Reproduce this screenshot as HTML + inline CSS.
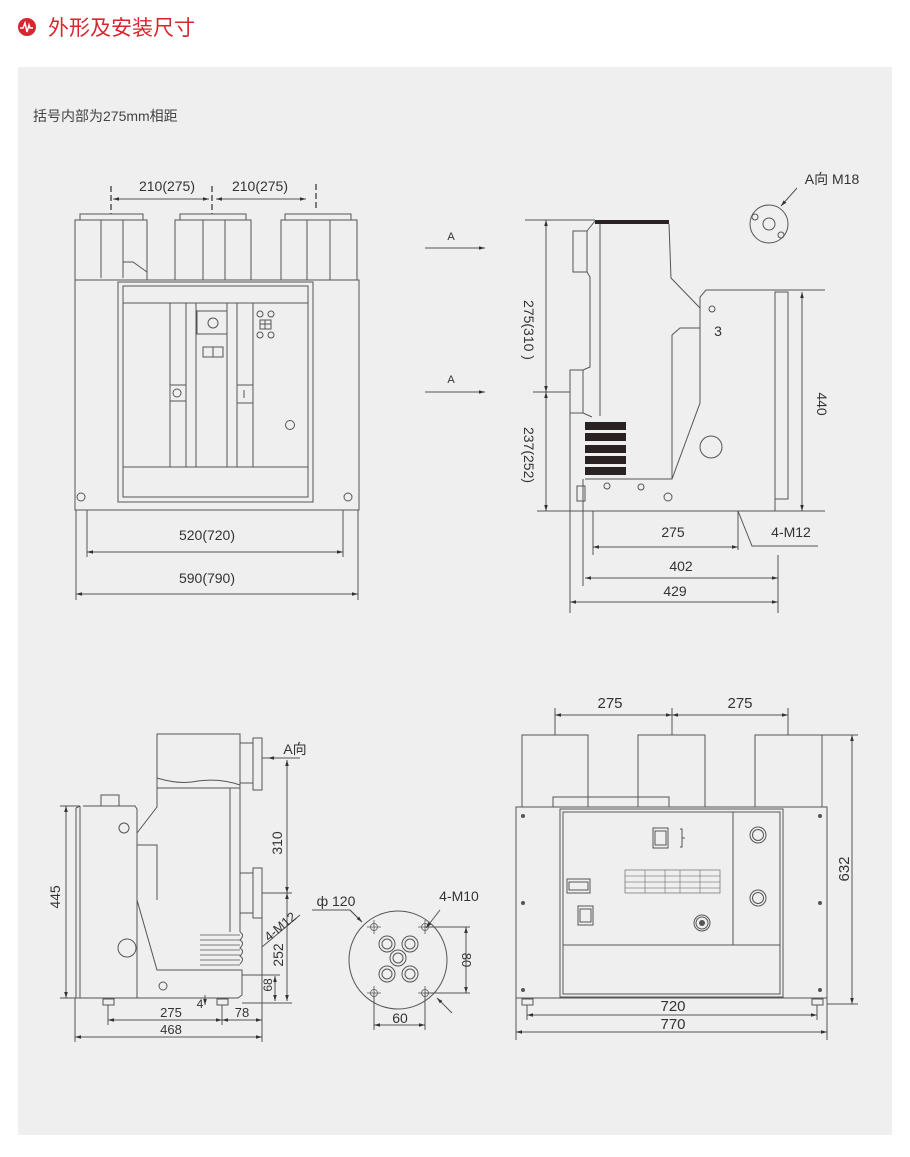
<!DOCTYPE html><html><head><meta charset="utf-8"><style>
body{margin:0;background:#fff;width:910px;height:1157px;overflow:hidden}
svg{display:block}
text{font-family:"Liberation Sans","Noto Sans CJK SC",sans-serif;fill:#333}
</style></head><body>
<svg width="910" height="1157" viewBox="0 0 910 1157" xmlns="http://www.w3.org/2000/svg">
<defs><marker id="a" viewBox="0 0 10 10" refX="10" refY="5" markerWidth="6" markerHeight="6" orient="auto-start-reverse"><path d="M0,2L10,5L0,8z" fill="#333"/></marker></defs>
<rect width="910" height="1157" fill="#fff"/>
<circle cx="27" cy="27" r="9" fill="#d8262e"/>
<path d="M20,28h3l2,-5l2,9l2,-7l1,3h3" stroke="#fff" stroke-width="1.5" fill="none"/>
<text x="48" y="35" font-size="21" style="fill:#d8262e">外形及安装尺寸</text>
<rect x="18" y="67" width="874" height="1068" fill="#efefef"/>
<text x="33" y="121" font-size="14" style="fill:#444">括号内部为275mm相距</text>
<g fill="none" stroke="#555" stroke-width="1">
<!-- view1 -->
<rect x="80" y="214" width="63" height="6"/><rect x="75" y="220" width="72" height="60"/>
<line x1="101" y1="220" x2="101" y2="278"/><line x1="123" y1="220" x2="123" y2="278"/><path d="M123,262h10l14,10"/>
<rect x="180" y="214" width="66" height="6"/><rect x="175" y="220" width="76" height="60"/>
<line x1="203" y1="220" x2="203" y2="280"/><line x1="225" y1="220" x2="225" y2="280"/>
<rect x="285" y="214" width="66" height="6"/><rect x="281" y="220" width="76" height="60"/>
<line x1="307" y1="220" x2="307" y2="280"/><line x1="330" y1="220" x2="330" y2="280"/>
<rect x="75" y="280" width="284" height="230"/>
<rect x="118" y="282" width="195" height="220"/><rect x="123" y="286" width="185" height="211"/>
<line x1="123" y1="303" x2="308" y2="303"/><line x1="123" y1="467" x2="308" y2="467"/>
<line x1="170" y1="303" x2="170" y2="467"/><line x1="186" y1="303" x2="186" y2="467"/><line x1="196" y1="303" x2="196" y2="467"/><line x1="227" y1="303" x2="227" y2="467"/><line x1="237" y1="303" x2="237" y2="467"/><line x1="253" y1="303" x2="253" y2="467"/>
<rect x="197" y="311" width="30" height="23"/><circle cx="213" cy="323" r="5"/><rect x="203" y="347" width="20" height="10"/><line x1="213" y1="347" x2="213" y2="357"/>
<rect x="170" y="385" width="16" height="16"/><circle cx="177" cy="393" r="4"/><rect x="237" y="385" width="16" height="18"/><line x1="244" y1="390" x2="244" y2="398"/>
<circle cx="260" cy="314" r="3"/><circle cx="271" cy="314" r="3"/><circle cx="260" cy="335" r="3"/><circle cx="271" cy="335" r="3"/><rect x="260" y="320" width="11" height="9"/><line x1="265" y1="320" x2="265" y2="329"/><line x1="260" y1="324" x2="271" y2="324"/>
<circle cx="290" cy="425" r="4.5"/><circle cx="81" cy="497" r="4"/><circle cx="348" cy="497" r="4"/>
<line x1="76" y1="510" x2="76" y2="600"/><line x1="358" y1="510" x2="358" y2="600"/><line x1="87" y1="510" x2="87" y2="557"/><line x1="343" y1="510" x2="343" y2="557"/>
<line x1="87" y1="552" x2="343" y2="552" marker-start="url(#a)" marker-end="url(#a)"/>
<line x1="76" y1="594" x2="358" y2="594" marker-start="url(#a)" marker-end="url(#a)"/>
<g stroke-dasharray="6,3" stroke-width="1.5"><line x1="111" y1="186" x2="111" y2="214"/><line x1="212" y1="186" x2="212" y2="214"/><line x1="316" y1="184" x2="316" y2="210"/></g>
<line x1="113" y1="199" x2="209" y2="199" marker-start="url(#a)" marker-end="url(#a)"/>
<line x1="216" y1="199" x2="306" y2="199" marker-start="url(#a)" marker-end="url(#a)"/>
<!-- view2 -->
<line x1="425" y1="248" x2="485" y2="248" marker-end="url(#a)"/><line x1="425" y1="392" x2="485" y2="392" marker-end="url(#a)"/>
<line x1="525" y1="220" x2="595" y2="220"/><line x1="533" y1="392" x2="570" y2="392"/><line x1="537" y1="511" x2="825" y2="511"/>
<line x1="546" y1="220" x2="546" y2="392" marker-start="url(#a)" marker-end="url(#a)"/><line x1="546" y1="392" x2="546" y2="511" marker-start="url(#a)" marker-end="url(#a)"/>
<rect x="573" y="231" width="14" height="41"/>
<path d="M587,231L595,221M587,272L590,277V367L583,370H570V613"/>
<rect x="570" y="370" width="13" height="43"/><path d="M583,413L592,417"/>
<line x1="600" y1="224" x2="600" y2="416"/>
<path d="M669,224L671,278L700,308V297L706,290H825"/>
<path d="M700,297V403L672,479H585"/><path d="M672,479V335L680,328H700"/>
<rect x="775" y="292" width="13" height="207"/><line x1="775" y1="499" x2="775" y2="511"/><line x1="778" y1="555" x2="778" y2="613"/>
<line x1="802" y1="292" x2="802" y2="511" marker-start="url(#a)" marker-end="url(#a)"/>
<circle cx="712" cy="309" r="3"/><circle cx="711" cy="447" r="11"/><circle cx="607" cy="486" r="3"/><circle cx="641" cy="487" r="3"/><circle cx="668" cy="497" r="4"/>
<rect x="577" y="486" width="8" height="15"/>
<line x1="583" y1="479" x2="583" y2="586"/><line x1="593" y1="511" x2="593" y2="555"/><line x1="738" y1="511" x2="738" y2="550"/>
<line x1="593" y1="547" x2="738" y2="547" marker-start="url(#a)" marker-end="url(#a)"/>
<line x1="585" y1="578" x2="778" y2="578" marker-start="url(#a)" marker-end="url(#a)"/>
<line x1="570" y1="602" x2="778" y2="602" marker-start="url(#a)" marker-end="url(#a)"/>
<path d="M738,511L752,546H818"/>
<circle cx="769" cy="224" r="19"/><circle cx="769" cy="224" r="6"/><circle cx="755" cy="217" r="3"/><circle cx="781" cy="235" r="3"/>
<line x1="797" y1="188" x2="781" y2="206" marker-end="url(#a)"/>
<!-- view3 -->
<rect x="157" y="734" width="83" height="54"/><path d="M157,778Q180,785 198,781Q220,778 240,785"/>
<rect x="240" y="743" width="13" height="40"/><rect x="253" y="738" width="9" height="52"/>
<rect x="240" y="873" width="13" height="40"/><rect x="253" y="868" width="9" height="50"/>
<path d="M240,788V932M230,788V932"/>
<path d="M157,788V807L137,833M137,845H157V900M137,845V900L157,970H242V995L238,998H80"/>
<path d="M83,806H135L137,809V833"/><path d="M137,833V998"/>
<path d="M76,808V998M80,806V998M76,808L80,806"/><rect x="101" y="795" width="18" height="11"/>
<g stroke-width="0.8"><line x1="200" y1="935" x2="240" y2="935"/><line x1="200" y1="940" x2="240" y2="940"/><line x1="200" y1="945" x2="240" y2="945"/><line x1="200" y1="950" x2="240" y2="950"/><line x1="200" y1="955" x2="240" y2="955"/><line x1="200" y1="960" x2="240" y2="960"/><line x1="200" y1="965" x2="240" y2="965"/></g>
<path d="M240,932q5,3 0,8q5,3 0,8q5,3 0,8q5,3 0,8"/>
<circle cx="124" cy="828" r="5"/><circle cx="127" cy="948" r="9"/><circle cx="163" cy="986" r="4"/>
<rect x="103" y="999" width="11" height="6"/><rect x="217" y="999" width="11" height="6"/>
<line x1="60" y1="806" x2="80" y2="806"/><line x1="60" y1="998" x2="80" y2="998"/>
<line x1="66" y1="806" x2="66" y2="998" marker-start="url(#a)" marker-end="url(#a)"/>
<line x1="262" y1="758" x2="292" y2="758"/><line x1="262" y1="893" x2="292" y2="893"/><line x1="242" y1="975" x2="280" y2="975"/><line x1="242" y1="1003" x2="292" y2="1003"/>
<line x1="287" y1="760" x2="287" y2="893" marker-start="url(#a)" marker-end="url(#a)"/>
<line x1="287" y1="893" x2="287" y2="1001" marker-start="url(#a)" marker-end="url(#a)"/>
<line x1="275" y1="976" x2="275" y2="1001" marker-start="url(#a)" marker-end="url(#a)"/>
<line x1="300" y1="758" x2="268" y2="758" marker-end="url(#a)"/>
<path d="M300,915L262,947"/>
<line x1="205" y1="995" x2="205" y2="1005" marker-end="url(#a)"/>
<line x1="108" y1="1005" x2="108" y2="1025"/><line x1="222" y1="1005" x2="222" y2="1025"/><line x1="262" y1="918" x2="262" y2="1042"/><line x1="75" y1="998" x2="75" y2="1042"/>
<line x1="108" y1="1020" x2="222" y2="1020" marker-start="url(#a)" marker-end="url(#a)"/>
<line x1="222" y1="1020" x2="262" y2="1020" marker-start="url(#a)" marker-end="url(#a)"/>
<line x1="75" y1="1037" x2="262" y2="1037" marker-start="url(#a)" marker-end="url(#a)"/>
<!-- view4 -->
<circle cx="398" cy="960" r="49"/>
<g stroke-width="0.8"><circle cx="374" cy="927" r="3.5"/><circle cx="425" cy="927" r="3.5"/><circle cx="374" cy="993" r="3.5"/><circle cx="425" cy="993" r="3.5"/>
<path d="M367,927h14M374,920v14M418,927h14M425,920v14M367,993h14M374,986v14M418,993h14M425,986v14"/></g>
<circle cx="387" cy="944" r="8"/><circle cx="387" cy="944" r="5"/><circle cx="410" cy="944" r="8"/><circle cx="410" cy="944" r="5"/><circle cx="398" cy="958" r="8"/><circle cx="398" cy="958" r="5"/><circle cx="387" cy="974" r="8"/><circle cx="387" cy="974" r="5"/><circle cx="410" cy="974" r="8"/><circle cx="410" cy="974" r="5"/>
<line x1="374" y1="993" x2="374" y2="1030"/><line x1="425" y1="993" x2="425" y2="1030"/>
<line x1="374" y1="1025" x2="425" y2="1025" marker-start="url(#a)" marker-end="url(#a)"/>
<line x1="425" y1="927" x2="470" y2="927"/><line x1="425" y1="993" x2="470" y2="993"/>
<line x1="466" y1="927" x2="466" y2="993" marker-start="url(#a)" marker-end="url(#a)"/>
<path d="M312,910H350L362,922" /><line x1="350" y1="910" x2="362" y2="922" marker-end="url(#a)"/>
<line x1="440" y1="910" x2="426" y2="928" marker-end="url(#a)"/><line x1="452" y1="1013" x2="437" y2="998" marker-end="url(#a)"/>
<!-- view5 -->
<rect x="522" y="735" width="66" height="72"/><rect x="638" y="735" width="67" height="72"/><rect x="755" y="735" width="67" height="72"/>
<line x1="555" y1="708" x2="555" y2="735"/><line x1="672" y1="708" x2="672" y2="735"/><line x1="788" y1="708" x2="788" y2="735"/>
<line x1="555" y1="715" x2="672" y2="715" marker-start="url(#a)" marker-end="url(#a)"/><line x1="672" y1="715" x2="788" y2="715" marker-start="url(#a)" marker-end="url(#a)"/>
<rect x="553" y="797" width="116" height="10"/>
<rect x="516" y="807" width="311" height="191"/>
<rect x="560" y="809" width="223" height="188"/><rect x="563" y="812" width="217" height="182"/>
<line x1="563" y1="945" x2="780" y2="945"/><line x1="733" y1="812" x2="733" y2="945"/>
<circle cx="758" cy="835" r="8"/><circle cx="758" cy="835" r="5.5"/><circle cx="758" cy="898" r="8"/><circle cx="758" cy="898" r="5.5"/>
<circle cx="702" cy="923" r="8"/><circle cx="702" cy="923" r="6"/>
<rect x="653" y="828" width="15" height="20"/><rect x="655" y="831" width="11" height="14"/><path d="M680,829h2v18h-2M682,838h3"/>
<rect x="625" y="870" width="95" height="23" stroke-width="0.6"/><g stroke-width="0.5"><line x1="625" y1="876" x2="720" y2="876"/><line x1="625" y1="882" x2="720" y2="882"/><line x1="625" y1="888" x2="720" y2="888"/><line x1="645" y1="870" x2="645" y2="893"/><line x1="665" y1="870" x2="665" y2="893"/><line x1="680" y1="870" x2="680" y2="893"/><line x1="700" y1="870" x2="700" y2="893"/></g>
<rect x="567" y="879" width="23" height="14"/><rect x="569" y="882" width="19" height="8"/>
<rect x="578" y="906" width="15" height="19"/><rect x="580" y="909" width="11" height="13"/>
<rect x="522" y="999" width="11" height="6"/><rect x="812" y="999" width="11" height="6"/>
<line x1="822" y1="735" x2="858" y2="735"/><line x1="827" y1="1004" x2="858" y2="1004"/>
<line x1="852" y1="735" x2="852" y2="1004" marker-start="url(#a)" marker-end="url(#a)"/>
<line x1="527" y1="1005" x2="527" y2="1020"/><line x1="817" y1="1005" x2="817" y2="1020"/><line x1="516" y1="998" x2="516" y2="1040"/><line x1="827" y1="998" x2="827" y2="1040"/>
<line x1="527" y1="1015" x2="817" y2="1015" marker-start="url(#a)" marker-end="url(#a)"/>
<line x1="516" y1="1032" x2="827" y2="1032" marker-start="url(#a)" marker-end="url(#a)"/>
</g>
<g fill="#555"><circle cx="523" cy="816" r="2"/><circle cx="820" cy="816" r="2"/><circle cx="523" cy="903" r="2"/><circle cx="820" cy="903" r="2"/><circle cx="523" cy="990" r="2"/><circle cx="820" cy="990" r="2"/><circle cx="702" cy="923" r="3"/></g>
<rect x="595" y="220" width="74" height="4" fill="#2a2222"/>
<g fill="#2a2222"><rect x="585" y="422" width="41" height="8"/><rect x="585" y="433" width="41" height="8"/><rect x="585" y="445" width="41" height="8"/><rect x="585" y="456" width="41" height="8"/><rect x="585" y="467" width="41" height="8"/></g>
<g font-size="14" text-anchor="middle">
<text x="167" y="191">210(275)</text><text x="260" y="191">210(275)</text>
<text x="207" y="540">520(720)</text><text x="207" y="583">590(790)</text>
<text x="451" y="240" font-size="11">A</text><text x="451" y="383" font-size="11">A</text>
<text transform="translate(524,330) rotate(90)">275(310 )</text>
<text transform="translate(524,455) rotate(90)">237(252)</text>
<text x="718" y="336">3</text>
<text transform="translate(817,404) rotate(90)">440</text>
<text x="832" y="184">A向 M18</text>
<text x="673" y="537">275</text><text x="681" y="571">402</text><text x="675" y="596">429</text><text x="791" y="537">4-M12</text>
<text transform="translate(60,897) rotate(-90)">445</text>
<text transform="translate(282,843) rotate(-90)">310</text>
<text transform="translate(283,955) rotate(-90)">252</text>
<text transform="translate(272,985) rotate(-90)" font-size="12">68</text>
<text x="295" y="754">A向</text>
<text transform="translate(283,930) rotate(-40)" font-size="13">4-M12</text>
<text x="200" y="1008" font-size="12">4</text>
<text x="171" y="1017" font-size="13">275</text><text x="242" y="1017" font-size="13">78</text><text x="171" y="1034" font-size="13">468</text>
<text x="336" y="906">ф 120</text><text x="459" y="901">4-M10</text>
<text transform="translate(462,960) rotate(90)" font-size="13">80</text>
<text x="400" y="1023">60</text>
<text x="610" y="708" font-size="15">275</text><text x="740" y="708" font-size="15">275</text>
<text transform="translate(849,869) rotate(-90)" font-size="15">632</text>
<text x="673" y="1011" font-size="15">720</text><text x="673" y="1029" font-size="15">770</text>
</g>
</svg>
</body></html>
